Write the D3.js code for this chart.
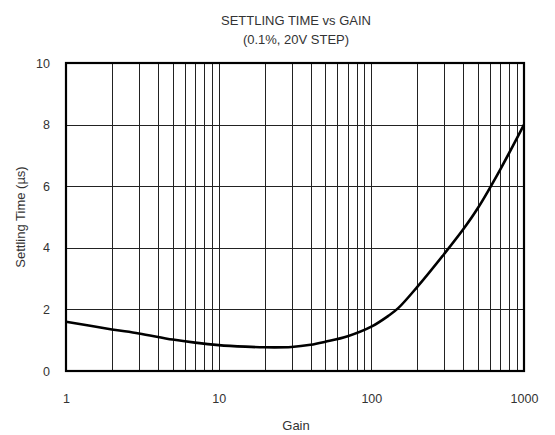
<!DOCTYPE html>
<html><head><meta charset="utf-8">
<script src="https://cdn.jsdelivr.net/npm/d3@7"></script>
<style>body{margin:0;background:#fff}svg{display:block}</style>
</head><body>
<svg id="c" width="555" height="435"></svg>
<script>
const gain = [1, 2, 3, 5, 7, 10, 15, 20, 30, 40, 50, 70, 100, 130, 150, 200, 300, 400, 500, 700, 1000];
const settling = [1.6, 1.35, 1.22, 1.02, 0.92, 0.84, 0.79, 0.77, 0.78, 0.85, 0.95, 1.13, 1.44, 1.8, 2.04, 2.73, 3.8, 4.6, 5.3, 6.55, 8.0];
const xTicks = [1, 10, 100, 1000];
const yTicks = [0, 2, 4, 6, 8, 10];
const title = ["SETTLING TIME vs GAIN", "(0.1%, 20V STEP)"];

const svg = d3.select("#c");
const m = {l: 66, r: 524, t: 63, b: 371};
const x = d3.scaleLog().domain([1, 1000]).range([m.l, m.r]);
const y = d3.scaleLinear().domain([0, 10]).range([m.b, m.t]);
const font = "Liberation Sans, Arial, sans-serif";
const tc = "#333";
const px = v => Math.round(v) + 0.5;

// vertical grid
const minor = [];
for (let d = 1; d < 1000; d *= 10) for (let k = 2; k <= 10; k++) minor.push(d * k);
svg.append("g").selectAll("line").data(minor.filter(v => v < 1000)).join("line")
  .attr("x1", d => px(x(d))).attr("x2", d => px(x(d))).attr("y1", m.t).attr("y2", m.b)
  .attr("stroke", "#222").attr("stroke-width", 1);
svg.append("g").selectAll("line").data(yTicks.slice(1, -1)).join("line")
  .attr("y1", d => px(y(d))).attr("y2", d => px(y(d))).attr("x1", m.l).attr("x2", m.r)
  .attr("stroke", "#222").attr("stroke-width", 1);
svg.append("rect").attr("x", m.l).attr("y", m.t).attr("width", m.r - m.l).attr("height", m.b - m.t)
  .attr("fill", "none").attr("stroke", "#000").attr("stroke-width", 2.2);

// axes labels via d3 axes
const xa = svg.append("g").attr("transform", `translate(0,${m.b})`)
  .call(d3.axisBottom(x).tickValues(xTicks).tickFormat(d3.format("d")).tickSize(0).tickPadding(23));
const ya = svg.append("g").attr("transform", `translate(${m.l},0)`)
  .call(d3.axisLeft(y).tickValues(yTicks).tickFormat(d3.format("d")).tickSize(0).tickPadding(16));
[xa, ya].forEach(a => {
  a.select(".domain").remove();
  a.selectAll("text").attr("font-family", font).attr("font-size", 12.5).attr("fill", tc);
});

// curve
const line = d3.line().x((d, i) => x(gain[i])).y(d => y(d)).curve(d3.curveCatmullRom.alpha(0.5));
svg.append("path").attr("d", line(settling)).attr("fill", "none")
  .attr("stroke", "#000").attr("stroke-width", 2.6);

// titles
svg.append("g").selectAll("text").data(title).join("text")
  .attr("x", 296).attr("y", (d, i) => 25 + i * 19).attr("text-anchor", "middle")
  .attr("font-family", font).attr("font-size", 13).attr("fill", tc).text(d => d);
svg.append("text").attr("x", 296).attr("y", 430).attr("text-anchor", "middle")
  .attr("font-family", font).attr("font-size", 13).attr("fill", tc).text("Gain");
svg.append("text").attr("transform", "translate(25,217) rotate(-90)").attr("text-anchor", "middle")
  .attr("font-family", font).attr("font-size", 13).attr("fill", tc).text("Settling Time (µs)");
</script>
</body></html>
